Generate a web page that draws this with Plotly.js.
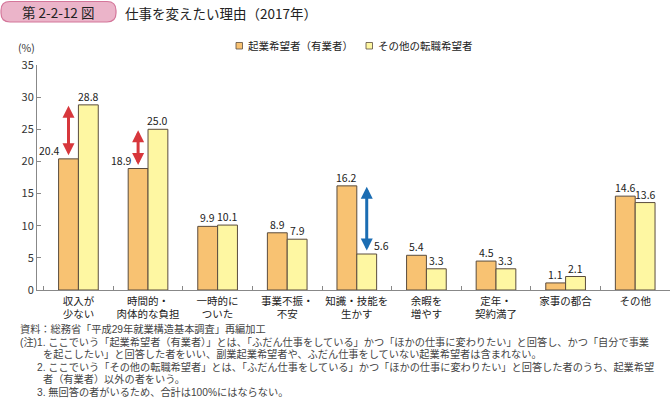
<!DOCTYPE html>
<html>
<head>
<meta charset="utf-8">
<script src="https://cdn.plot.ly/plotly-3.0.1.min.js"></script>
<style>html,body{margin:0;padding:0;background:#fff;}#chart{width:670px;height:398px;}</style>
</head>
<body>
<div id="chart"></div>
<script>
// ---- data ----
const categories = ['収入が<br>少ない', '時間的・<br>肉体的な負担', '一時的に<br>ついた', '事業不振・<br>不安', '知識・技能を<br>生かす', '余暇を<br>増やす', '定年・<br>契約満了', '家事の都合', 'その他'];
const seriesNames = ['起業希望者（有業者）', 'その他の転職希望者'];
const entrepreneurs = [20.4, 18.9, 9.9, 8.9, 16.2, 5.4, 4.5, 1.1, 14.6];
const otherChangers = [28.8, 25.0, 10.1, 7.9, 5.6, 3.3, 3.3, 2.1, 13.6];
const yTicks = [0, 5, 10, 15, 20, 25, 30, 35];
const arrowCategories = [0, 1, 4];
const titleText = '仕事を変えたい理由（2017年）';
const figNumber = '第 2-2-12 図';
const unitText = '(%)';
const notes = [
  '資料：総務省「平成29年就業構造基本調査」再編加工',
  '(注)1. ここでいう「起業希望者（有業者）」とは、「ふだん仕事をしている」かつ「ほかの仕事に変わりたい」と回答し、かつ「自分で事業',
  'を起こしたい」と回答した者をいい、副業起業希望者や、ふだん仕事をしていない起業希望者は含まれない。',
  '2. ここでいう「その他の転職希望者」とは、「ふだん仕事をしている」かつ「ほかの仕事に変わりたい」と回答した者のうち、起業希望',
  '者（有業者）以外の者をいう。',
  '3. 無回答の者がいるため、合計は100%にはならない。'
];

// ---- layout helpers (pixel -> paper) ----
const L = 37, PW = 633, T = 65, PH = 225;
const X = px => (px - L) / PW;
const Y = py => (T + PH - py) / PH;

const FONT = '"Noto Sans CJK JP", "Noto Sans", sans-serif';
const NOTE_FONT = '"Liberation Sans", "Noto Sans CJK JP", sans-serif';
const orange = '#F8C272', yellow = '#FEF7A2', edge = '#5a4c3e';
const bargap = 0.43;
const off = (1 - bargap) / 4;

const traces = [
  {type: 'bar', name: seriesNames[0], x: categories, y: entrepreneurs,
   marker: {color: orange, line: {color: edge, width: 1}}, hoverinfo: 'y'},
  {type: 'bar', name: seriesNames[1], x: categories, y: otherChangers,
   marker: {color: yellow, line: {color: edge, width: 1}}, hoverinfo: 'y'}
];

const annotations = [];
// value labels
const labelShift = {0: [-19, 0], 1: [-17, 0], 4: [0, 15]};
[entrepreneurs, otherChangers].forEach((arr, s) => {
  arr.forEach((v, i) => {
    const sh = labelShift[i] ? labelShift[i][s] : 0;
    annotations.push({x: i + (s === 0 ? -off : off), y: v, xref: 'x', yref: 'y',
      text: v.toFixed(1), showarrow: false, yanchor: 'bottom', xanchor: 'center',
      xshift: sh, yshift: -1, font: {size: 10.5, color: '#222'}});
  });
});
// double arrows
arrowCategories.forEach(i => {
  const a = entrepreneurs[i], b = otherChangers[i];
  const hi = Math.max(a, b), lo = Math.min(a, b);
  const onOrange = a < b;
  const xx = i + (onOrange ? -off : off);
  annotations.push({x: xx, y: hi, ax: xx, ay: lo, xref: 'x', yref: 'y', axref: 'x', ayref: 'y',
    text: '', showarrow: true, arrowhead: 2, arrowside: 'end+start', arrowsize: 0.8,
    arrowwidth: 3, arrowcolor: onOrange ? '#D7373C' : '#1B6DB3', standoff: 1, startstandoff: 2});
});
// title, figure number, unit
annotations.push({xref: 'paper', yref: 'paper', x: X(58), y: Y(12), text: figNumber, showarrow: false,
  xanchor: 'center', yanchor: 'middle', font: {size: 13.5, color: '#222'}});
annotations.push({xref: 'paper', yref: 'paper', x: X(123), y: Y(13), text: titleText, showarrow: false,
  xanchor: 'left', yanchor: 'middle', font: {size: 13.5, color: '#222'}});
annotations.push({xref: 'paper', yref: 'paper', x: X(16), y: Y(48), text: unitText, showarrow: false,
  xanchor: 'left', yanchor: 'middle', font: {size: 10.5, color: '#333'}});
// legend texts
annotations.push({xref: 'paper', yref: 'paper', x: X(246), y: Y(46), text: seriesNames[0], showarrow: false,
  xanchor: 'left', yanchor: 'middle', font: {size: 10.5, color: '#222'}});
annotations.push({xref: 'paper', yref: 'paper', x: X(376), y: Y(46), text: seriesNames[1], showarrow: false,
  xanchor: 'left', yanchor: 'middle', font: {size: 10.5, color: '#222'}});
// notes
const noteX = [19, 19, 42, 36, 42, 36];
const noteY = [329, 341.5, 354, 366.5, 379, 391.5];
notes.forEach((t, k) => {
  annotations.push({xref: 'paper', yref: 'paper', x: X(noteX[k]), y: Y(noteY[k]), text: t, showarrow: false,
    xanchor: 'left', yanchor: 'middle', borderpad: 0, font: {family: NOTE_FONT, size: 10.2, color: '#444'}});
});

function rr(x0, y0, x1, y1, r) {
  return `M${X(x0 + r)},${Y(y0)} L${X(x1 - r)},${Y(y0)} Q${X(x1)},${Y(y0)} ${X(x1)},${Y(y0 + r)} ` +
    `L${X(x1)},${Y(y1 - r)} Q${X(x1)},${Y(y1)} ${X(x1 - r)},${Y(y1)} L${X(x0 + r)},${Y(y1)} ` +
    `Q${X(x0)},${Y(y1)} ${X(x0)},${Y(y1 - r)} L${X(x0)},${Y(y0 + r)} Q${X(x0)},${Y(y0)} ${X(x0 + r)},${Y(y0)} Z`;
}

const shapes = [
  {type: 'path', xref: 'paper', yref: 'paper', path: rr(1, 1.5, 116, 22, 9),
   fillcolor: '#EBB4C9', line: {color: '#D4769A', width: 1.2}},
  {type: 'rect', xref: 'paper', yref: 'paper', x0: X(236), x1: X(242.5), y0: Y(49), y1: Y(42.5),
   fillcolor: orange, line: {color: edge, width: 0.8}},
  {type: 'rect', xref: 'paper', yref: 'paper', x0: X(366), x1: X(372.5), y0: Y(49), y1: Y(42.5),
   fillcolor: yellow, line: {color: edge, width: 0.8}}
];

const layout = {
  width: 670, height: 398,
  margin: {l: L, r: 670 - L - PW, t: T, b: 398 - T - PH, pad: 0},
  paper_bgcolor: '#fff', plot_bgcolor: '#fff',
  font: {family: FONT, size: 10.5, color: '#222'},
  showlegend: false,
  barmode: 'group', bargap: bargap, bargroupgap: 0,
  xaxis: {type: 'category', showline: true, linecolor: '#888', linewidth: 1,
    ticks: 'inside', tickson: 'boundaries', ticklen: 4, tickcolor: '#888', tickangle: 0,
    tickfont: {size: 10.5, color: '#222'}, showgrid: false, zeroline: false, fixedrange: true,
    ticklabelstandoff: 1},
  yaxis: {range: [0, 35], tickvals: yTicks, ticktext: yTicks.map(String), showline: true,
    linecolor: '#888', linewidth: 1, ticks: 'inside', ticklen: 4, tickcolor: '#888',
    tickfont: {size: 11, color: '#333'}, showgrid: false, zeroline: false, fixedrange: true},
  annotations: annotations,
  shapes: shapes
};

Plotly.newPlot('chart', traces, layout, {displayModeBar: false, staticPlot: true});
</script>
</body>
</html>
